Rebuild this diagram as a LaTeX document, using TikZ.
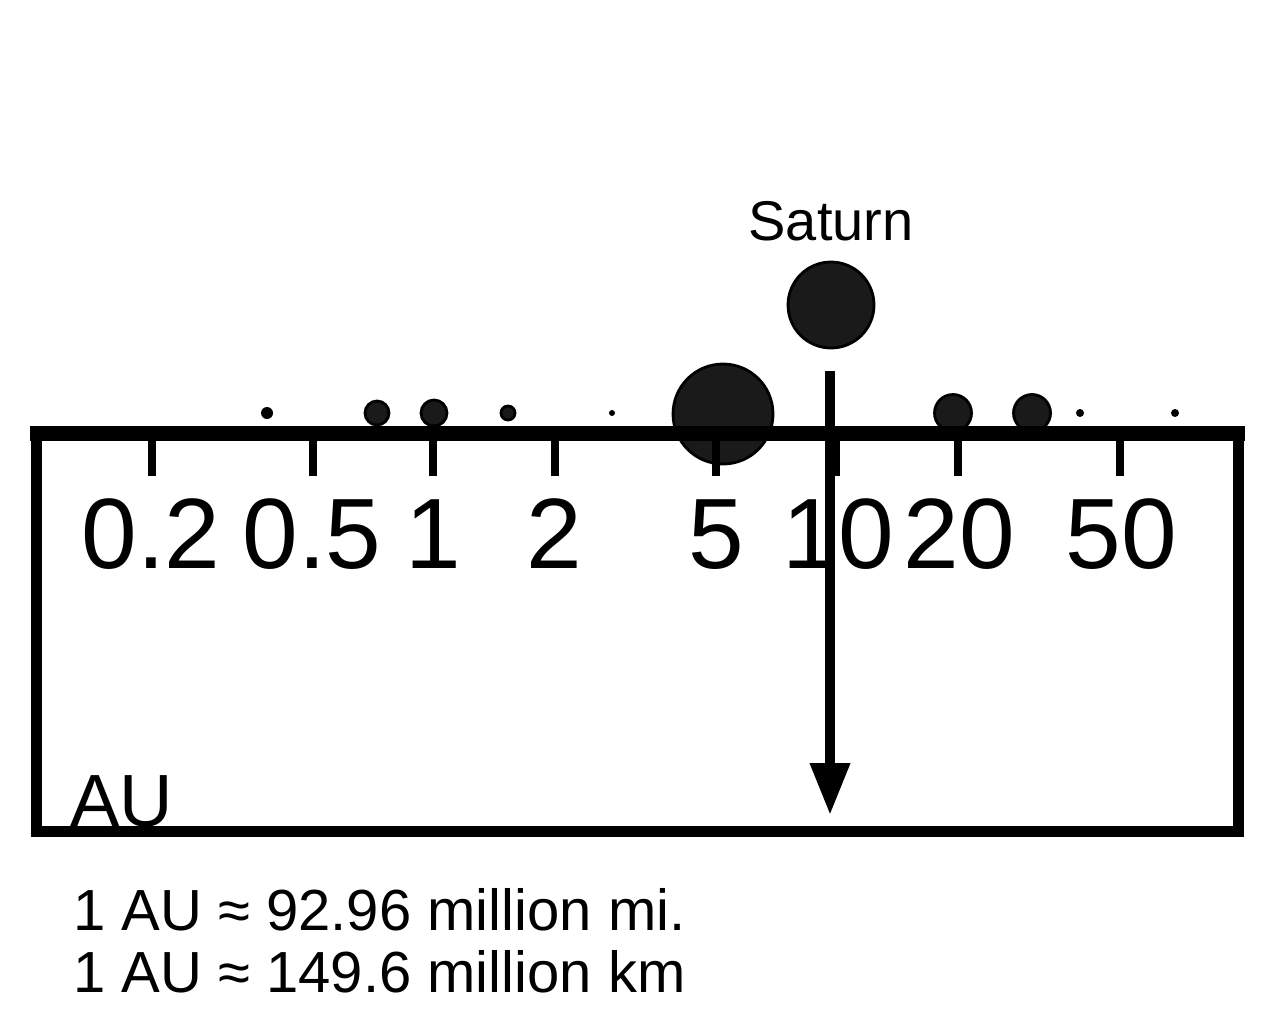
\documentclass[tikz,border=0pt]{standalone}
\usepackage{fontspec}
\setmainfont{Liberation Sans}
\usetikzlibrary{arrows.meta}
\definecolor{planetfill}{HTML}{1A1A1A}
\begin{document}
\begin{tikzpicture}[x=0.5pt,y=-0.5pt,
  planet/.style={circle, fill=planetfill, draw=black, line width=1.4pt, inner sep=0pt, minimum size=#1},
  dotp/.style={circle, fill=black, inner sep=0pt, minimum size=#1},
  tickmark/.style={line width=4pt},
  ticklabel/.style={anchor=base, inner sep=0pt, font=\fontsize{50pt}{60pt}\selectfont},
  note/.style={anchor=base west, inner sep=0pt, font=\fontsize{29pt}{35pt}\selectfont}]
\useasboundingbox (0,0) rectangle (1272,1033);
% planets
\node[dotp=6pt] (p1) at (267,413) {};
\node[planet=12pt] (p2) at (377,413) {};
\node[planet=13pt] (p3) at (434,413) {};
\node[planet=7pt] (p4) at (508,413) {};
\node[dotp=3pt] (p5) at (612,413) {};
\node[planet=50pt] (p6) at (723,414) {};
\node[planet=18.5pt] (p7) at (953,413) {};
\node[planet=18.5pt] (p8) at (1032,413) {};
\node[dotp=4pt] (p9) at (1080,413) {};
\node[dotp=4pt] (p10) at (1175,413) {};
\node[planet=43pt] (sat) at (831,305) {};
\node[anchor=base, inner sep=0pt, font=\fontsize{28pt}{34pt}\selectfont] (satl) at (831,240) {Saturn};
% box and axis
\draw[line width=5.5pt] (36,433) -- (36,831) -- (1238,831) -- (1238,433);
\draw[line width=7.5pt] (30,433) -- (1245,433);
\foreach \x/\n in {152/a,313/b,433/c,555/d,716/e,836/f,958/g,1120/h}
  \draw[tickmark] (\x,437) -- (\x,476);
\node[ticklabel] (l1) at (151,568) {0.2};
\node[ticklabel] (l2) at (312,568) {0.5};
\node[ticklabel] (l3) at (433,568) {1};
\node[ticklabel] (l4) at (554,568) {2};
\node[ticklabel] (l5) at (716,568) {5};
\node[ticklabel] (l6) at (838,568) {10};
\node[ticklabel] (l7) at (959,568) {20};
\node[ticklabel] (l8) at (1121,568) {50};
\node[anchor=base west, inner sep=0pt, font=\fontsize{37pt}{44pt}\selectfont] (au) at (70,826) {AU};
% arrow
\coordinate (atop) at (830,371);
\coordinate (abot) at (830,815);
\draw[line width=5pt, -{Triangle[width=19pt,length=26pt]}] (atop) -- (abot);
% notes
\node[note] (n1) at (73,930) {1 AU ≈ 92.96 million mi.};
\node[note] (n2) at (73,992) {1 AU ≈ 149.6 million km};
\end{tikzpicture}
\end{document}
